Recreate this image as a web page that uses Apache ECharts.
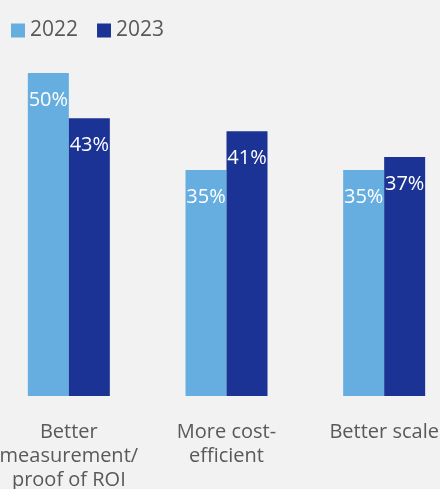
<!DOCTYPE html>
<html>
<head>
<meta charset="utf-8">
<script src="https://cdn.jsdelivr.net/npm/echarts@6/dist/echarts.min.js"></script>
<style>
  html, body { margin: 0; padding: 0; background: #f2f2f2; overflow: hidden; }
  #wrap { position: relative; width: 440px; height: 489px; overflow: hidden; }
  /* plot runs a little past both edges, as in the original */
  #chart { position: absolute; left: -10px; top: 0; width: 473px; height: 489px; }
</style>
</head>
<body>
<div id="wrap"><div id="chart"></div></div>
<script>
var categories = ['Better\nmeasurement/\nproof of ROI', 'More cost-\nefficient', 'Better scale'];
var values2022 = [50, 35, 35];
var values2023 = [43, 41, 37];

var chart = echarts.init(document.getElementById('chart'));

function barLabel() {
  return {
    show: true,
    position: ['50%', 27],
    align: 'center',
    verticalAlign: 'middle',
    color: '#ffffff',
    fontFamily: 'Open Sans',
    fontSize: 20,
    formatter: '{c}%'
  };
}

var option = {
  backgroundColor: '#f2f2f2',
  animation: false,
  legend: {
    left: 16,
    top: 15,
    itemWidth: 14,
    itemHeight: 14,
    itemGap: 19,
    icon: 'rect',
    textStyle: { color: '#595959', fontFamily: 'Open Sans', fontSize: 21 },
    data: ['2022', '2023']
  },
  grid: { left: 0, right: 0, top: 73, bottom: 93, containLabel: false, outerBoundsMode: 'none' },
  xAxis: {
    type: 'category',
    data: categories,
    axisLine: { show: false },
    axisTick: { show: false },
    axisLabel: {
      interval: 0,
      margin: 24,
      color: '#595959',
      fontFamily: 'Open Sans',
      fontSize: 20,
      lineHeight: 24,
      verticalAlign: 'top'
    }
  },
  yAxis: {
    type: 'value',
    min: 0,
    max: 50,
    show: false,
    splitLine: { show: false }
  },
  series: [
    {
      name: '2022',
      type: 'bar',
      barWidth: 41,
      barGap: 0,
      itemStyle: { color: '#66aee0' },
      label: barLabel(),
      data: values2022
    },
    {
      name: '2023',
      type: 'bar',
      barWidth: 41,
      barGap: 0,
      itemStyle: { color: '#1b3394' },
      label: barLabel(),
      data: values2023
    }
  ]
};
chart.setOption(option);
</script>
</body>
</html>
